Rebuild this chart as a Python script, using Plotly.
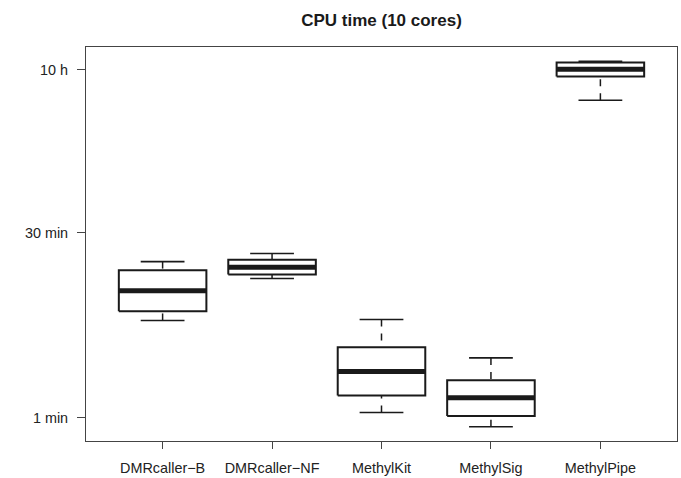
import plotly.graph_objects as go

# ---- data (minutes) ----
categories = ["DMRcaller\u2212B", "DMRcaller\u2212NF", "MethylKit", "MethylSig", "MethylPipe"]
lower_whisker = [5.97, 12.9, 1.10, 0.847, 341]
q1 = [7.08, 13.9, 1.50, 1.03, 528]
median = [10.3, 15.9, 2.34, 1.44, 604]
q3 = [15.0, 18.2, 3.65, 1.99, 683]
upper_whisker = [17.6, 20.4, 6.08, 3.00, 699]

y_tick_vals = [1, 30, 600]
y_tick_text = ["1 min", "30 min", "10 h"]

positions = list(range(1, len(categories) + 1))
box_half = 0.4
cap_half = 0.2

# build line paths from data
bx, by = [], []
mx, my = [], []
wx, wy = [], []
cx, cy = [], []
for p, lw, a, m, b, uw in zip(positions, lower_whisker, q1, median, q3, upper_whisker):
    bx += [p - box_half, p + box_half, p + box_half, p - box_half, p - box_half, None]
    by += [a, a, b, b, a, None]
    mx += [p - box_half, p + box_half, None]
    my += [m, m, None]
    wx += [p, p, None, p, p, None]
    wy += [uw, b, None, lw, a, None]
    cx += [p - cap_half, p + cap_half, None, p - cap_half, p + cap_half, None]
    cy += [uw, uw, None, lw, lw, None]

fig = go.Figure()
fig.add_trace(go.Scatter(x=wx, y=wy, mode="lines",
                         line=dict(color="#1a1a1a", width=1.5, dash="7px,7px"),
                         hoverinfo="skip", showlegend=False))
fig.add_trace(go.Scatter(x=cx, y=cy, mode="lines",
                         line=dict(color="#1a1a1a", width=1.6),
                         hoverinfo="skip", showlegend=False))
fig.add_trace(go.Scatter(x=bx, y=by, mode="lines",
                         line=dict(color="#1a1a1a", width=2),
                         hoverinfo="skip", showlegend=False))
fig.add_trace(go.Scatter(x=mx, y=my, mode="lines",
                         line=dict(color="#1a1a1a", width=5),
                         hoverinfo="skip", showlegend=False))

font_family = "Liberation Sans, Arial, Helvetica, sans-serif"

fig.update_layout(
    width=681, height=478,
    margin=dict(l=86, r=4, t=47, b=37),
    paper_bgcolor="white", plot_bgcolor="white",
    font=dict(family=font_family, size=14.4, color="#222222"),
    title=dict(text="<b>CPU time (10 cores)</b>", x=0.5, xref="paper",
               y=1 - 20 / 478, yref="container", yanchor="middle", xanchor="center",
               font=dict(size=17, family=font_family, color="#1a1a1a")),
    xaxis=dict(range=[0.30, 5.70], tickvals=positions, ticktext=categories,
               showgrid=False, zeroline=False, showline=True, mirror=True,
               linecolor="#444444", linewidth=1, ticks="outside", ticklen=7,
               tickcolor="#444444", tickwidth=1, ticklabelstandoff=7,
               automargin=False, fixedrange=True),
    yaxis=dict(type="log", range=[-0.186, 2.958], tickvals=y_tick_vals, ticktext=y_tick_text,
               showgrid=False, zeroline=False, showline=True, mirror=True,
               linecolor="#444444", linewidth=1, ticks="outside", ticklen=8,
               tickcolor="#444444", tickwidth=1, ticklabelstandoff=6,
               automargin=False, fixedrange=True),
)

fig.write_html("out.html", config={"displayModeBar": False},
               post_script="document.body.style.margin='0';document.body.style.padding='0';"
                           "document.body.style.overflow='hidden';")
